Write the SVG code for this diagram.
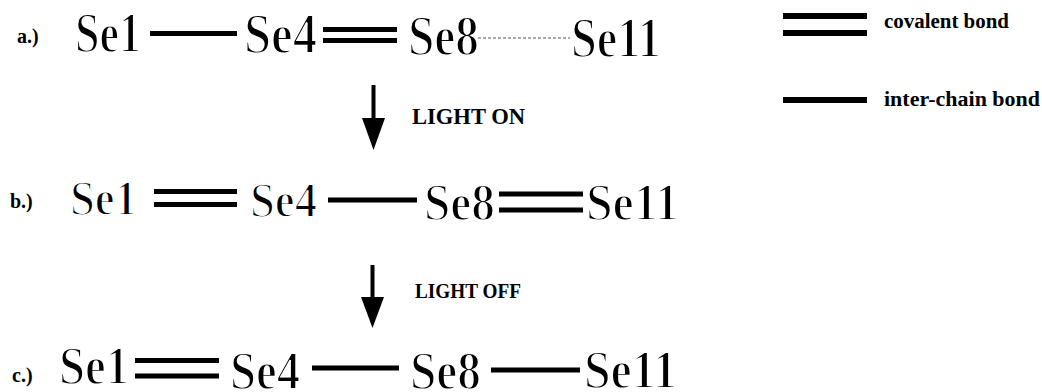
<svg xmlns="http://www.w3.org/2000/svg" width="1042" height="392" viewBox="0 0 1042 392">
<style>
text.se{font-family:'Liberation Serif','Times New Roman',Times,serif;font-weight:bold;fill:#000;stroke:#fff;stroke-width:0.5;paint-order:fill;}
text.lbl{font-family:'Liberation Serif','Times New Roman',Times,serif;font-weight:bold;font-size:20px;fill:#000;}
.bond{stroke:#000;stroke-width:5;fill:none;}
.leg{stroke:#000;stroke-width:6;fill:none;}
.dash{stroke:#555;stroke-width:1;stroke-dasharray:3,2;fill:none;}
.shaft{stroke:#000;stroke-width:4;fill:none;}
</style>
<rect width="1042" height="392" fill="#fff"/>
<g id="row-labels">
<text class="lbl" x="17" y="43">a.)</text>
<text class="lbl" x="10" y="208">b.)</text>
<text class="lbl" x="12" y="382">c.)</text>
</g>
<g id="row-a">
<g id="a-Se1"><text class="se" font-size="14" transform="translate(75,52) scale(4)" textLength="16.5" lengthAdjust="spacingAndGlyphs">Se1</text></g>
<g id="a-Se4"><text class="se" font-size="14" transform="translate(244,53) scale(4)" textLength="18.25" lengthAdjust="spacingAndGlyphs">Se4</text></g>
<g id="a-Se8"><text class="se" font-size="14" transform="translate(408,55) scale(4)" textLength="17.75" lengthAdjust="spacingAndGlyphs">Se8</text></g>
<g id="a-Se11"><text class="se" font-size="14" transform="translate(571,57) scale(4)" textLength="22.5" lengthAdjust="spacingAndGlyphs">Se11</text></g>
</g>
<g id="row-b">
<g id="b-Se1"><text class="se" font-size="12.5" transform="translate(70,215) scale(4)" textLength="16.75" lengthAdjust="spacingAndGlyphs">Se1</text></g>
<g id="b-Se4"><text class="se" font-size="12.5" transform="translate(250,217) scale(4)" textLength="16.75" lengthAdjust="spacingAndGlyphs">Se4</text></g>
<g id="b-Se8"><text class="se" font-size="13" transform="translate(424,220) scale(4)" textLength="17.75" lengthAdjust="spacingAndGlyphs">Se8</text></g>
<g id="b-Se11"><text class="se" font-size="13" transform="translate(586,220) scale(4)" textLength="23.25" lengthAdjust="spacingAndGlyphs">Se11</text></g>
</g>
<g id="row-c">
<g id="c-Se1"><text class="se" font-size="13.75" transform="translate(59,384) scale(4)" textLength="17.5" lengthAdjust="spacingAndGlyphs">Se1</text></g>
<g id="c-Se4"><text class="se" font-size="13.75" transform="translate(230,389) scale(4)" textLength="17.5" lengthAdjust="spacingAndGlyphs">Se4</text></g>
<g id="c-Se8"><text class="se" font-size="13.75" transform="translate(410,389) scale(4)" textLength="17.75" lengthAdjust="spacingAndGlyphs">Se8</text></g>
<g id="c-Se11"><text class="se" font-size="13.75" transform="translate(584,388) scale(4)" textLength="23.25" lengthAdjust="spacingAndGlyphs">Se11</text></g>
</g>
<g id="connectors">
<line class="bond" x1="150" y1="33.5" x2="237" y2="33.5"/>
<line class="bond" x1="323" y1="29.5" x2="397" y2="29.5"/>
<line class="bond" x1="323" y1="40.5" x2="397" y2="40.5"/>
<line class="dash" x1="478" y1="38" x2="570" y2="38"/>
<line class="bond" x1="154" y1="191.5" x2="237" y2="191.5"/>
<line class="bond" x1="154" y1="204.5" x2="237" y2="204.5"/>
<line class="bond" x1="328" y1="200" x2="417" y2="200"/>
<line class="bond" x1="499" y1="194" x2="583" y2="194"/>
<line class="bond" x1="499" y1="210" x2="583" y2="210"/>
<line class="bond" x1="135" y1="360.5" x2="219" y2="360.5"/>
<line class="bond" x1="135" y1="376" x2="219" y2="376"/>
<line class="bond" x1="312" y1="368" x2="399" y2="368"/>
<line class="bond" x1="491" y1="370" x2="580" y2="370"/>
<line class="shaft" x1="373.5" y1="85" x2="373.5" y2="120"/>
<polygon points="362,118 385,118 373.5,150" fill="#000"/>
<line class="shaft" x1="372.5" y1="265" x2="372.5" y2="299"/>
<polygon points="361,297 384,297 372.5,328" fill="#000"/>
</g>
<g id="arrow-labels">
<text class="lbl" x="412" y="124" textLength="113" lengthAdjust="spacingAndGlyphs" style="font-size:24px">LIGHT ON</text>
<text class="lbl" x="415" y="298" textLength="106" lengthAdjust="spacingAndGlyphs" style="font-size:22px">LIGHT OFF</text>
</g>
<g id="legend">
<line class="leg" x1="783" y1="16" x2="867" y2="16"/>
<line class="leg" x1="783" y1="33" x2="867" y2="33"/>
<text class="lbl" x="884" y="28" textLength="125" lengthAdjust="spacingAndGlyphs">covalent bond</text>
<line class="leg" x1="783" y1="100" x2="867" y2="100"/>
<text class="lbl" x="884" y="106" textLength="156" lengthAdjust="spacingAndGlyphs">inter-chain bond</text>
</g>
</svg>
